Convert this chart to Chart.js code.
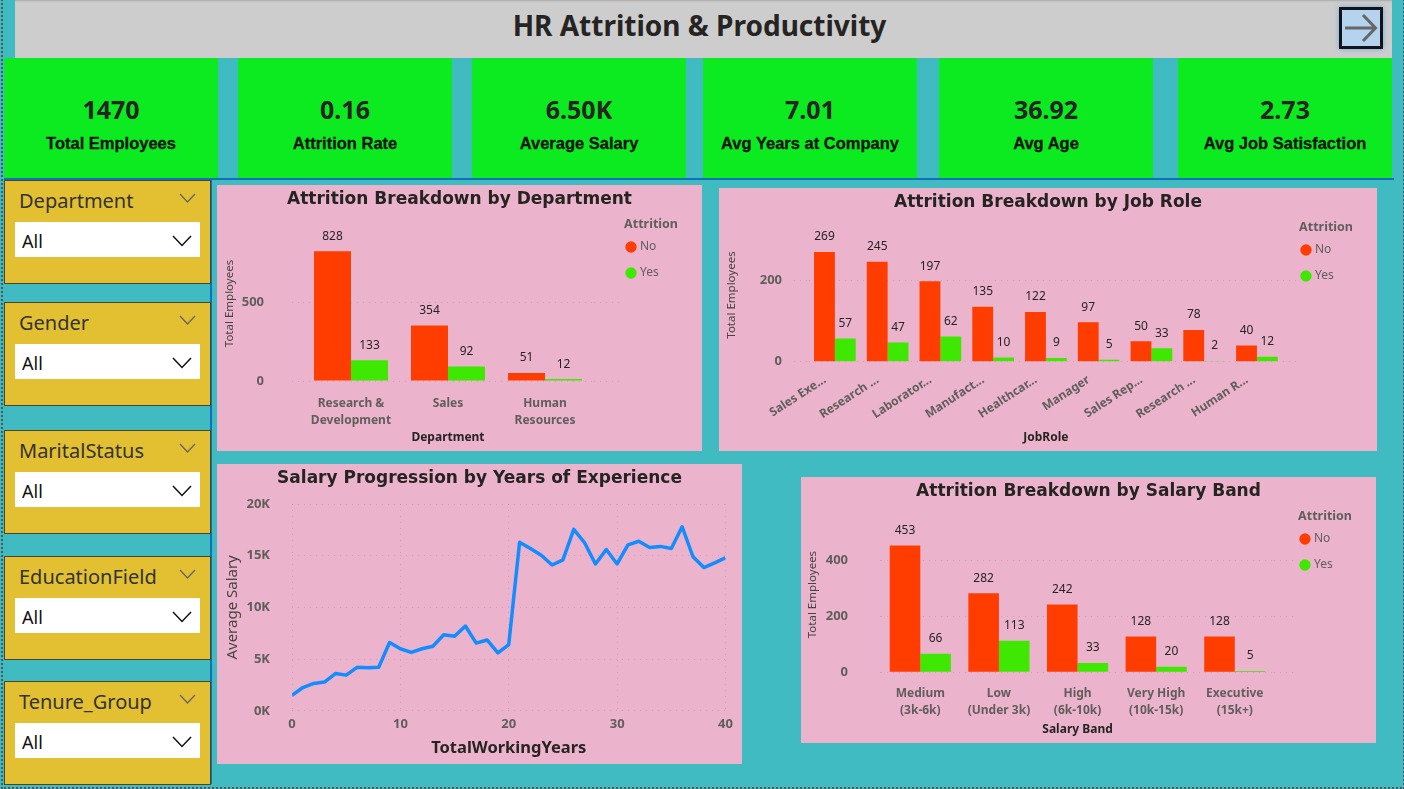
<!DOCTYPE html>
<html>
<head>
<meta charset="utf-8">
<title>HR Attrition & Productivity</title>
<script src="https://cdn.jsdelivr.net/npm/chart.js@4"></script>
<style>
  html, body { margin: 0; padding: 0; width: 1404px; height: 789px; overflow: hidden; background: #41BBC2; font-family: "Noto Sans", sans-serif; }
  .abs { position: absolute; }
  #frame { left: 1px; top: -4px; width: 1400px; height: 789px; border: 2px dotted #555; }
  #rule { left: 210px; top: 178px; width: 1182px; height: 604px; border-left: 2px solid #1070B8; border-top: 2px solid #1070B8; }
  #rule2 { left: 4px; top: 178px; width: 206px; height: 2px; background: #1070B8; }
  #header { left: 15px; top: 0; width: 1377px; height: 58px; background: #CDCDCD; box-shadow: inset 0 2px 2px -1px #aaa; }
  #header h1 { position: absolute; left: 0; width: 1369px; top: 5px; margin: 0; text-align: center; font-size: 28px; line-height: 40px; font-weight: 700; color: #252423; }
  #back { left: 1339px; top: 7px; width: 38px; height: 36px; border: 3px solid #10131A; background: #B4D3EE; box-shadow: 0 0 5px #6FA8DC; }
  .kpi { top: 58px; height: 120px; background: #0BEB1F; text-align: center; color: #252423; }
  .kpi .val { position: absolute; left: 0; right: 0; top: 34px; font-size: 25px; line-height: 34px; font-weight: 700; }
  .kpi .lab { position: absolute; left: 0; right: 0; top: 75px; font: bold 16.500px/20px "Liberation Sans", sans-serif; color: #111; -webkit-text-stroke: 0.3px #111; }
  .slicer { left: 4px; width: 205px; height: 102px; background: #E2C031; border: 1px solid #4d4526; }
  .slicer .name { position: absolute; left: 14px; top: 5px; font-size: 20px; line-height: 30px; color: #333; }
  .slicer .box { position: absolute; left: 10px; top: 41px; width: 185px; height: 35px; background: #fff; }
  .slicer .all { position: absolute; left: 7px; top: 6px; font-size: 18px; line-height: 26px; color: #111; }
  .slicer svg { position: absolute; }
  .panel { background: #ECB4CC; }
  .panel canvas { display: block; }
</style>
</head>
<body>
<div class="abs" id="frame"></div>
<div class="abs" id="rule"></div>
<div class="abs" id="rule2"></div>
<div class="abs" id="header"><h1>HR Attrition &amp; Productivity</h1></div>
<div class="abs" id="back">
  <svg width="38" height="36" viewBox="0 0 38 36"><path d="M3 18H33M21 5L33.500 18L21 31" fill="none" stroke="#666" stroke-width="3"/></svg>
</div>
<div id="kpis"></div>
<div id="slicers"></div>
<div class="abs panel" style="left:217px;top:185px;width:485px;height:266px"><canvas id="deptChart"></canvas></div>
<div class="abs panel" style="left:719px;top:188px;width:658px;height:263px"><canvas id="roleChart"></canvas></div>
<div class="abs panel" style="left:217px;top:464px;width:525px;height:300px"><canvas id="salaryChart"></canvas></div>
<div class="abs panel" style="left:801px;top:477px;width:575px;height:266px"><canvas id="bandChart"></canvas></div>

<script>
// KPI cards
const kpiValues = ['1470', '0.16', '6.50K', '7.01', '36.92', '2.73'];
const kpiLabels = ['Total Employees', 'Attrition Rate', 'Average Salary', 'Avg Years at Company', 'Avg Age', 'Avg Job Satisfaction'];
const kpiLefts = [4, 238, 472, 703, 939, 1178];

// Slicers
const slicerNames = ['Department', 'Gender', 'MaritalStatus', 'EducationField', 'Tenure_Group'];
const slicerTops = [180, 302, 430, 556, 681];

// Attrition by department
const deptLabels = [['Research &', 'Development'], 'Sales', ['Human', 'Resources']];
const deptNo = [828, 354, 51];
const deptYes = [133, 92, 12];
const deptTicks = [0, 500];

// Attrition by job role
const roleLabels = ['Sales Exe...', 'Research ...', 'Laborator...', 'Manufact...', 'Healthcar...', 'Manager', 'Sales Rep...', 'Research ...', 'Human R...'];
const roleNo = [269, 245, 197, 135, 122, 97, 50, 78, 40];
const roleYes = [57, 47, 62, 10, 9, 5, 33, 2, 12];
const roleTicks = [0, 200];

// Attrition by salary band
const bandLabels = [['Medium', '(3k-6k)'], ['Low', '(Under 3k)'], ['High', '(6k-10k)'], ['Very High', '(10k-15k)'], ['Executive', '(15k+)']];
const bandNo = [453, 282, 242, 128, 128];
const bandYes = [66, 113, 33, 20, 5];
const bandTicks = [0, 200, 400];

// Salary by years of experience
const years = [0, 1, 2, 3, 4, 5, 6, 7, 8, 9, 10, 11, 12, 13, 14, 15, 16, 17, 18, 19, 20, 21, 22, 23, 24, 25, 26, 27, 28, 29, 30, 31, 32, 33, 34, 35, 36, 37, 38, 39, 40];
const avgSalary = [1500, 2250, 2650, 2780, 3600, 3450, 4200, 4160, 4200, 6600, 6000, 5650, 6000, 6250, 7350, 7200, 8200, 6550, 6850, 5600, 6400, 16300, 15700, 15050, 14100, 14600, 17550, 16250, 14200, 15600, 14200, 16050, 16400, 15800, 15900, 15700, 17800, 14900, 13850, 14300, 14800];

const UI_FONT = '"Noto Sans", sans-serif';
const TITLE_FONT = '"DejaVu Sans", sans-serif';
const GREY = '#605E5C';
const DARK = '#252423';
const RED = '#FF3D00';
const GREEN = '#3EE800';
const GRID = 'rgba(125,125,125,0.3)';
const DOTS = [1, 5];
const LEGEND_WIDTH = 64;

kpiValues.forEach((v, i) => {
    const d = document.createElement('div');
    d.className = 'abs kpi';
    d.style.left = kpiLefts[i] + 'px';
    d.style.width = '214px';
    d.innerHTML = '<div class="val">' + v + '</div><div class="lab">' + kpiLabels[i] + '</div>';
    document.getElementById('kpis').appendChild(d);
});

slicerNames.forEach((name, i) => {
    const d = document.createElement('div');
    d.className = 'abs slicer';
    d.style.top = slicerTops[i] + 'px';
    d.innerHTML = '<div class="name">' + name + '</div>' +
        '<svg style="left:174px;top:12px" width="17" height="10"><path d="M1 1L8.500 9L16 1" fill="none" stroke="#666" stroke-width="1.300"/></svg>' +
        '<div class="box"><div class="all">All</div>' +
        '<svg style="left:157px;top:13px" width="20" height="12"><path d="M1 1L10 10.500L19 1" fill="none" stroke="#111" stroke-width="1.500"/></svg></div>';
    document.getElementById('slicers').appendChild(d);
});

// value labels above the bars
const barValues = {
    id: 'barValues',
    afterDatasetsDraw(chart) {
        const ctx = chart.ctx;
        ctx.save();
        ctx.font = '12px ' + UI_FONT;
        ctx.fillStyle = DARK;
        ctx.textAlign = 'center';
        ctx.textBaseline = 'middle';
        chart.data.datasets.forEach((ds, i) => {
            chart.getDatasetMeta(i).data.forEach((bar, j) => {
                ctx.fillText(ds.data[j], bar.x, bar.y - 15);
            });
        });
        ctx.restore();
    }
};

// the legend box is as wide as its "Attrition" title, not just its items
const wideLegend = {
    id: 'wideLegend',
    beforeLayout(chart) {
        const lg = chart.legend;
        if (lg && !lg.widened) {
            const fit = lg.fit;
            lg.fit = function() {
                fit.call(this);
                this.width = LEGEND_WIDTH;
            };
            lg.widened = true;
        }
    }
};

// title centred on the whole panel, whatever the layout padding is
const panelTitle = {
    id: 'panelTitle',
    afterLayout(chart) {
        chart.titleBlock.left = 0;
        chart.titleBlock.right = chart.width;
    }
};

function titleOpts(text) {
    return {
        display: true,
        text: text,
        color: DARK,
        font: { family: TITLE_FONT, size: 17, weight: 'bold', lineHeight: 1.2 },
        padding: { top: 4, bottom: 0 }
    };
}

function barChart(id, labels, no, yes, tickValues, cfg) {
    const canvas = document.getElementById(id);
    const box = canvas.parentNode;
    canvas.width = box.clientWidth;
    canvas.height = box.clientHeight;
    const setTicks = s => { s.ticks = tickValues.map(v => ({ value: v })); };
    return new Chart(canvas, {
        type: 'bar',
        plugins: [barValues, wideLegend, panelTitle],
        data: {
            labels: labels,
            datasets: [
                { label: 'No', data: no, backgroundColor: RED, xAxisID: 'x', yAxisID: 'y' },
                { label: 'Yes', data: yes, backgroundColor: GREEN, xAxisID: 'x', yAxisID: 'y' }
            ]
        },
        options: {
            responsive: false,
            animation: false,
            barPercentage: 1,
            categoryPercentage: cfg.catPct,
            layout: { padding: { left: cfg.padLeft, right: 24, bottom: 6.5, top: 0 } },
            plugins: {
                title: titleOpts(cfg.title),
                tooltip: { enabled: false },
                legend: {
                    position: 'right',
                    align: 'start',
                    title: {
                        display: true,
                        text: 'Attrition',
                        position: 'end',
                        color: GREY,
                        font: { family: UI_FONT, size: 12.500, weight: 'bold', lineHeight: 1.2 },
                        padding: { top: 32.750, bottom: -5.750 }
                    },
                    labels: {
                        usePointStyle: true,
                        pointStyle: 'circle',
                        boxWidth: 6,
                        boxHeight: 8,
                        padding: 14,
                        color: GREY,
                        font: { family: UI_FONT, size: 12 }
                    }
                }
            },
            scales: {
                x: {
                    position: 'bottom',
                    grid: { display: false },
                    border: { display: false },
                    afterFit: s => { s.height = cfg.xHeight; },
                    ticks: {
                        autoSkip: false,
                        minRotation: cfg.rotation,
                        maxRotation: cfg.rotation,
                        padding: cfg.xTickPad,
                        labelOffset: cfg.labelOffset,
                        color: GREY,
                        font: { family: UI_FONT, size: 12, weight: 'bold', lineHeight: 1.4 }
                    },
                    title: {
                        display: true,
                        text: cfg.xTitle,
                        color: DARK,
                        padding: 0,
                        font: { family: UI_FONT, size: 12, weight: 'bold', lineHeight: 1.2 }
                    }
                },
                y: {
                    position: 'left',
                    min: 0,
                    max: cfg.max,
                    afterBuildTicks: setTicks,
                    afterFit: s => { s.width = cfg.yWidth; },
                    grid: { color: GRID, tickColor: GRID, tickLength: cfg.gridLeft, tickBorderDash: DOTS },
                    border: { display: false, dash: DOTS },
                    ticks: {
                        padding: cfg.yTickPad,
                        color: GREY,
                        font: { family: UI_FONT, size: 13, weight: 'bold' }
                    },
                    title: {
                        display: true,
                        text: 'Total Employees',
                        color: '#444',
                        padding: 0,
                        font: { family: UI_FONT, size: 11.500, lineHeight: 1.2 }
                    }
                },
                // empty axes only keep room between the plot and the title / legend
                topGap: {
                    axis: 'x',
                    type: 'linear',
                    position: 'top',
                    afterFit: s => { s.height = cfg.topGap; },
                    grid: { display: false },
                    border: { display: false },
                    ticks: { display: false }
                },
                rightGap: {
                    axis: 'y',
                    type: 'linear',
                    position: 'right',
                    min: 0,
                    max: cfg.max,
                    afterBuildTicks: setTicks,
                    afterFit: s => { s.width = cfg.rightGap; },
                    grid: { drawOnChartArea: false, tickColor: GRID, tickLength: cfg.gridRight, tickBorderDash: DOTS },
                    border: { display: false },
                    ticks: { display: false }
                }
            }
        }
    });
}

barChart('deptChart', deptLabels, deptNo, deptYes, deptTicks, {
    title: 'Attrition Breakdown by Department', xTitle: 'Department',
    catPct: 0.763, max: 990, rotation: 0, labelOffset: 0,
    padLeft: 5.700, yWidth: 79.800, gridLeft: 10.500, rightGap: 20.500, gridRight: 27.500,
    yTickPad: 28, xHeight: 63.500, xTickPad: 6, topGap: 16.600
});

barChart('roleChart', roleLabels, roleNo, roleYes, roleTicks, {
    title: 'Attrition Breakdown by Job Role', xTitle: 'JobRole',
    catPct: 0.79, max: 327, rotation: 33, labelOffset: -10,
    padLeft: 5.700, yWidth: 83.800, gridLeft: 14.500, rightGap: 5.700, gridRight: 15.700,
    yTickPad: 12, xHeight: 82.800, xTickPad: 2, topGap: 15.900
});

barChart('bandChart', bandLabels, bandNo, bandYes, bandTicks, {
    title: 'Attrition Breakdown by Salary Band', xTitle: 'Salary Band',
    catPct: 0.778, max: 555, rotation: 0, labelOffset: 0,
    padLeft: 5, yWidth: 75, gridLeft: 1, rightGap: 13.900, gridRight: 24,
    yTickPad: 32, xHeight: 64.200, xTickPad: 5, topGap: 14.600
});

// Salary progression line
const salaryCanvas = document.getElementById('salaryChart');
salaryCanvas.width = 525;
salaryCanvas.height = 300;
new Chart(salaryCanvas, {
    type: 'line',
    plugins: [panelTitle],
    data: {
        labels: years,
        datasets: [{
            data: avgSalary,
            borderColor: '#118DFF',
            borderWidth: 3.500,
            pointRadius: 0,
            tension: 0,
            borderJoinStyle: 'round'
        }]
    },
    options: {
        responsive: false,
        animation: false,
        layout: { padding: { left: 6.600, right: 16.500, bottom: 6, top: 0 } },
        plugins: {
            legend: { display: false },
            tooltip: { enabled: false },
            title: Object.assign(titleOpts('Salary Progression by Years of Experience'), { padding: { top: 4, bottom: 15.600 } })
        },
        scales: {
            x: {
                type: 'linear',
                min: 0,
                max: 40,
                afterFit: s => { s.height = 47.200; },
                grid: { color: GRID, drawTicks: false },
                border: { display: false, dash: DOTS },
                ticks: {
                    stepSize: 10,
                    padding: 6,
                    color: GREY,
                    font: { family: UI_FONT, size: 13, weight: 'bold' }
                },
                title: {
                    display: true,
                    text: 'TotalWorkingYears',
                    color: DARK,
                    padding: 0,
                    font: { family: UI_FONT, size: 16.500, weight: 'bold', lineHeight: 1.2 }
                }
            },
            y: {
                min: 0,
                max: 20000,
                afterFit: s => { s.width = 68.400; },
                grid: { color: GRID, drawTicks: false },
                border: { display: false, dash: DOTS },
                ticks: {
                    stepSize: 5000,
                    padding: 22,
                    color: GREY,
                    font: { family: UI_FONT, size: 13, weight: 'bold' },
                    callback: v => (v / 1000) + 'K'
                },
                title: {
                    display: true,
                    text: 'Average Salary',
                    color: '#444',
                    padding: 0,
                    font: { family: UI_FONT, size: 15, lineHeight: 1.2 }
                }
            }
        }
    }
});
</script>
</body>
</html>
